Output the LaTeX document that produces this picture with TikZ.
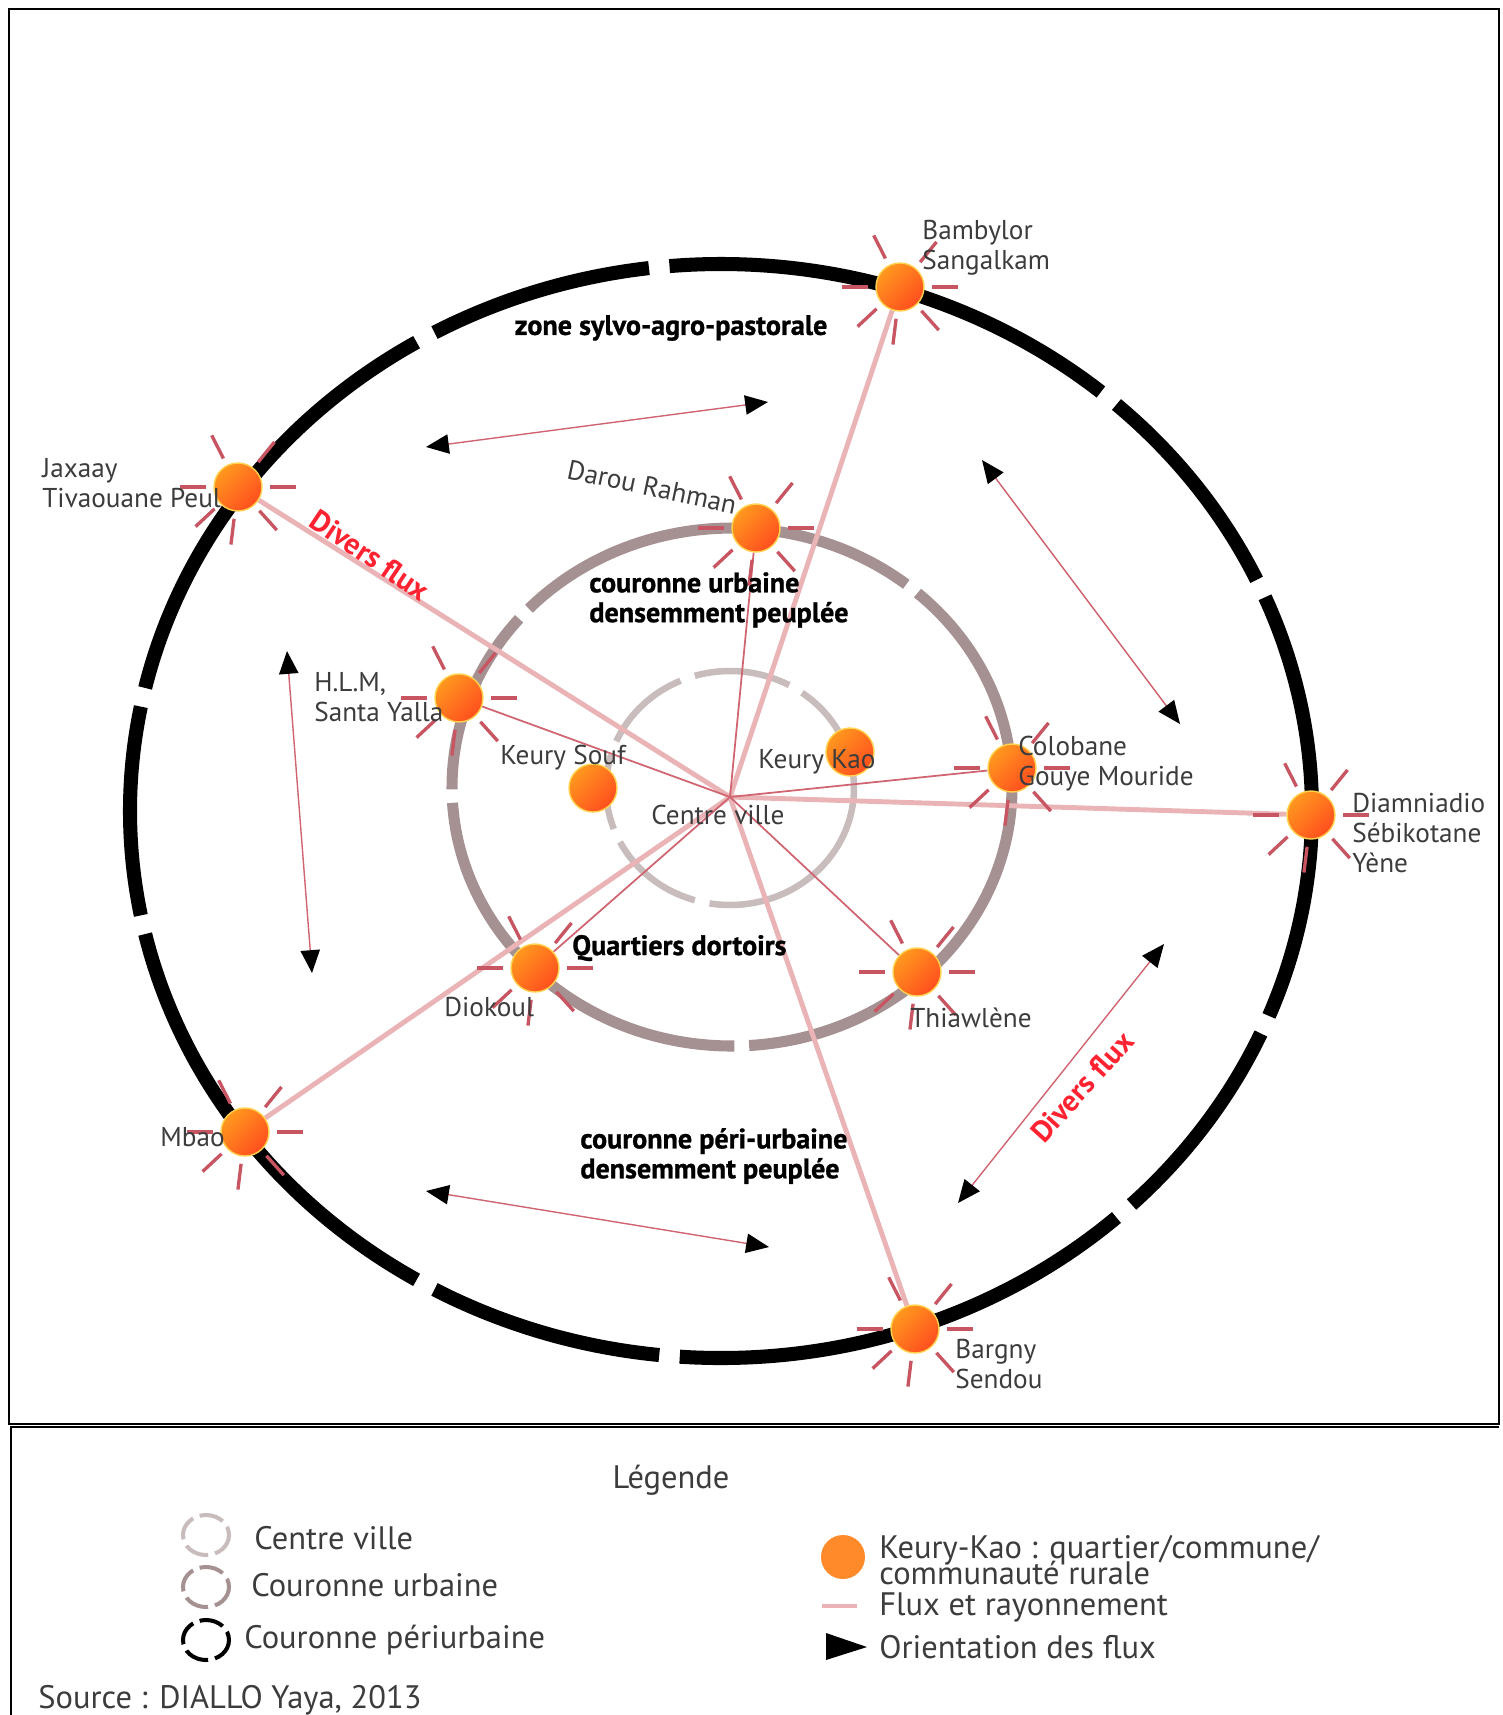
\documentclass[tikz,border=0pt]{standalone}
\usepackage{fontspec}
\setmainfont{PT Sans}
\newfontfamily\zonefont{PT Sans}[BoldFeatures={FakeBold=1}]
\usetikzlibrary{arrows.meta, calc}

\definecolor{ringurb}{RGB}{166,145,146}
\definecolor{ringcv}{RGB}{201,188,188}
\definecolor{fluxlight}{RGB}{234,180,182}
\definecolor{fluxdark}{RGB}{208,100,112}
\definecolor{raycol}{RGB}{200,85,98}
\definecolor{labelgray}{RGB}{60,60,60}
\definecolor{sitelight}{RGB}{255,152,30}
\definecolor{sitedark}{RGB}{255,78,30}
\definecolor{siteedge}{RGB}{255,210,80}
\definecolor{fluxred}{RGB}{255,35,50}
\definecolor{legorange}{RGB}{255,138,42}

\pgfdeclarelayer{rings}
\pgfdeclarelayer{flux}
\pgfsetlayers{rings,flux,main}

\begin{document}
\begin{tikzpicture}[
    x=0.02cm, y=-0.02cm,
    site/.style={circle, draw=siteedge, line width=0.8pt, top color=sitelight, bottom color=sitedark, shading angle=45, minimum size=0.96cm, inner sep=0pt},
    ray/.style={draw=raycol, line width=1.9pt},
    fluxthick/.style={draw=fluxlight, line width=2.8pt},
    fluxthin/.style={draw=fluxdark, line width=1pt},
    orient/.style={draw=fluxdark, line width=0.8pt, arrows={Triangle[length=13pt,width=11pt,color=black]-Triangle[length=13pt,width=11pt,color=black]}},
    lbl/.style={font=\fontsize{15.5}{17}\selectfont, text=labelgray, align=left, inner sep=0pt},
    zone/.style={font=\fontsize{16}{17}\selectfont\zonefont\bfseries, align=left, inner sep=0pt},
    divers/.style={font=\fontsize{17}{19}\selectfont\bfseries, text=fluxred, inner sep=0pt},
    leg/.style={font=\fontsize{18.5}{21}\selectfont, text=labelgray, anchor=west, inner sep=0pt, align=left},
    legring/.style={line width=2.3pt, dash pattern=on 14pt off 4pt}
]
    \useasboundingbox (0,0) rectangle (1502,1715);

    % --- frames ---
    \draw[line width=1.2pt] (9,9) rectangle (1499,1424);
    \draw[line width=1.6pt] (11,1740) -- (11,1427) -- (1499,1427);

    % --- places ---
    \coordinate (cv) at (730,797);
    \node[site] (bambylor) at (900,287) {};
    \node[site] (jaxaay) at (238,487) {};
    \node[site] (darou) at (756,528) {};
    \node[site] (hlm) at (459,698) {};
    \node[site] (keurysouf) at (593,788) {};
    \node[site] (keurykao) at (850,752) {};
    \node[site] (colobane) at (1012,768) {};
    \node[site] (diamniadio) at (1311,815) {};
    \node[site] (diokoul) at (535,968) {};
    \node[site] (thiawlene) at (917,972) {};
    \node[site] (mbao) at (245,1132) {};
    \node[site] (bargny) at (915,1329) {};

    % --- rings ---
    \begin{pgfonlayer}{rings}
    \foreach \s/\e in {24/46,48/94,96/119,121/167,169/191,193/239,241/263,265/310,312/335,337/382}
        \draw[line width=8pt] (721,811) ++(\s:591 and 547) arc[start angle=\s, end angle=\e, x radius=591, y radius=547];
    \foreach \s/\e in {89.5/176.5,179.5/220.5,223.5/308.5,311.5/446.5}
        \draw[ringurb, line width=6.3pt] (732,787) ++(\s:280 and 259) arc[start angle=\s, end angle=\e, x radius=280, y radius=259];
    \foreach \s/\e in {106.5/152.5,159.5/196.5,203.5/246.5,253.5/298.5,305.5/459.5}
        \draw[ringcv, line width=3.7pt] (730,788) ++(\s:124 and 117) arc[start angle=\s, end angle=\e, x radius=124, y radius=117];
    \end{pgfonlayer}

    % --- flux from centre ville ---
    \begin{pgfonlayer}{flux}
    \draw[fluxthick] (cv) -- (bambylor);
    \draw[fluxthick] (cv) -- (jaxaay);
    \draw[fluxthick] (cv) -- (diamniadio);
    \draw[fluxthick] (cv) -- (mbao);
    \draw[fluxthick] (cv) -- (bargny);
    \draw[fluxthin] (cv) -- (darou);
    \draw[fluxthin] (cv) -- (hlm);
    \draw[fluxthin] (cv) -- (colobane);
    \draw[fluxthin] (cv) -- (thiawlene);
    \draw[fluxthin] (cv) -- (diokoul);
    % rays round each place
    \foreach \n in {bambylor,jaxaay,darou,hlm,colobane,diamniadio,diokoul,thiawlene,mbao,bargny}
        \foreach \a in {0,48,97,137,180,243,309}
            \draw[ray] ($(\n)+(\a:32)$) -- ($(\n)+(\a:58)$);
    \end{pgfonlayer}

    % --- place names ---
    \node[lbl, anchor=west] (lbambylor) at (922,248) {Bambylor\\Sangalkam};
    \node[lbl, anchor=west] (ljaxaay) at (42,483) {Jaxaay\\Tivaouane Peul};
    \node[lbl, rotate=-12] (ldarou) at (652,487) {Darou Rahman};
    \node[lbl, anchor=west] (lhlm) at (314,697) {H.L.M,\\Santa Yalla};
    \node[lbl, anchor=west] (lkeurysouf) at (500,758) {Keury Souf};
    \node[lbl, anchor=west] (lkeurykao) at (758,762) {Keury Kao};
    \node[lbl, anchor=west] (lcentre) at (651,815) {Centre ville};
    \node[lbl, anchor=west] (lcolobane) at (1018,764) {Colobane\\Gouye Mouride};
    \node[lbl, anchor=west] (ldiamniadio) at (1352,833) {Diamniadio\\Sébikotane\\Yène};
    \node[lbl, anchor=west] (ldiokoul) at (444,1007) {Diokoul};
    \node[lbl, anchor=west] (lthiawlene) at (910,1018) {Thiawlène};
    \node[lbl, anchor=east] (lmbao) at (225,1137) {Mbao};
    \node[lbl, anchor=west] (lbargny) at (955,1364) {Bargny\\Sendou};

    % --- zones ---
    \node[zone] (zsylvo) at (671,328) {zone sylvo-agro-pastorale};
    \node[zone, anchor=west] (zurbaine) at (589,600) {couronne urbaine\\densemment peuplée};
    \node[zone, anchor=west] (zdortoirs) at (572,948) {Quartiers dortoirs};
    \node[zone, anchor=west] (zperi) at (580,1156) {couronne péri-urbaine\\densemment peuplée};
    \node[divers, rotate=-34] (dflux1) at (370,555) {Divers flux};
    \node[divers, rotate=48] (dflux2) at (1082,1087) {Divers flux};

    % --- orientation des flux ---
    \coordinate (n1) at (426,447);   \coordinate (n2) at (768,402);
    \coordinate (e1) at (982,460);   \coordinate (e2) at (1180,724);
    \coordinate (w1) at (287,651);   \coordinate (w2) at (312,973);
    \coordinate (se1) at (1164,944); \coordinate (se2) at (958,1203);
    \coordinate (s1) at (426,1191);  \coordinate (s2) at (769,1247);
    \draw[orient] (n1) -- (n2);
    \draw[orient] (e1) -- (e2);
    \draw[orient] (w1) -- (w2);
    \draw[orient] (se1) -- (se2);
    \draw[orient] (s1) -- (s2);

    % --- legend ---
    \node[leg, anchor=center] (legtitle) at (671,1480) {Légende};
    \draw[legring, ringcv] (206,1535) ellipse[x radius=23, y radius=20];
    \draw[legring, ringurb] (206,1587) ellipse[x radius=23, y radius=20];
    \draw[legring, black] (206,1640) ellipse[x radius=23, y radius=20];
    \node[leg] (legcv) at (254,1538) {Centre ville};
    \node[leg] (legurb) at (251,1585) {Couronne urbaine};
    \node[leg] (legperi) at (244,1640) {Couronne périurbaine};
    \node[circle, fill=legorange, minimum size=0.88cm, inner sep=0pt] (legsite) at (843,1557) {};
    \node[leg] (legsitetxt) at (879,1560) {Keury-Kao : quartier/commune/\\[-6.5pt]communauté rurale};
    \draw[draw=fluxlight, line width=2pt] (822,1606) -- (857,1606);
    \node[leg] (legflux) at (879,1607) {Flux et rayonnement};
    \fill (826,1633) -- (867,1647) -- (826,1660) -- cycle;
    \node[leg] (legorient) at (879,1647) {Orientation des flux};
    \node[leg] (legsource) at (38,1700) {Source : DIALLO Yaya, 2013};
\end{tikzpicture}
\end{document}
